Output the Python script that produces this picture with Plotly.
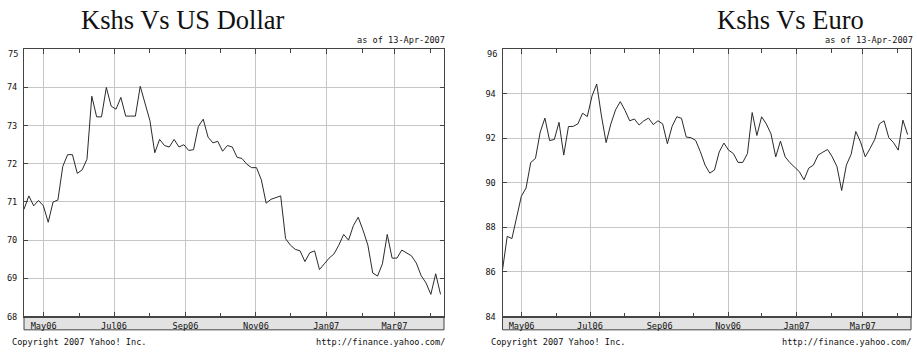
import plotly.graph_objects as go
import pandas as pd

W, H = 917, 358

# ---------------- data ----------------
start_date = "2006-04-14"
last_date = "2007-04-10"
axis_end = "2007-04-13"

usd_values = [70.81, 71.16, 70.90, 71.04, 70.90, 70.47, 71.00, 71.05, 71.93, 72.24,
              72.24, 71.75, 71.84, 72.12, 73.77, 73.23, 73.23, 74.00, 73.51, 73.43,
              73.74, 73.25, 73.25, 73.25, 74.03, 73.60, 73.13, 72.29, 72.64, 72.48,
              72.44, 72.64, 72.44, 72.50, 72.35, 72.37, 72.98, 73.17, 72.70, 72.55,
              72.59, 72.33, 72.48, 72.44, 72.17, 72.14, 71.99, 71.90, 71.90, 71.58,
              70.97, 71.07, 71.11, 71.16, 70.04, 69.87, 69.76, 69.72, 69.44, 69.67,
              69.72, 69.23, 69.38, 69.53, 69.64, 69.87, 70.15, 70.00, 70.38, 70.60,
              70.26, 69.87, 69.14, 69.06, 69.38, 70.15, 69.53, 69.53, 69.74, 69.66,
              69.59, 69.40, 69.07, 68.88, 68.58, 69.12, 68.58]

eur_values = [86.09, 87.60, 87.50, 88.50, 89.40, 89.77, 90.92, 91.10, 92.28, 92.91,
              91.90, 91.95, 92.72, 91.25, 92.53, 92.54, 92.65, 93.13, 92.98, 93.90,
              94.44, 93.01, 91.81, 92.65, 93.28, 93.65, 93.26, 92.79, 92.87, 92.60,
              92.79, 92.91, 92.62, 92.79, 92.65, 91.76, 92.54, 92.97, 92.90, 92.06,
              92.03, 91.91, 91.40, 90.80, 90.44, 90.58, 91.39, 91.79, 91.47, 91.32,
              90.92, 90.92, 91.32, 93.16, 92.13, 92.97, 92.65, 92.20, 91.17, 91.88,
              91.17, 90.91, 90.73, 90.51, 90.14, 90.66, 90.80, 91.25, 91.38, 91.50,
              91.17, 90.73, 89.66, 90.80, 91.28, 92.31, 91.84, 91.17, 91.54, 91.94,
              92.65, 92.79, 92.03, 91.81, 91.47, 92.82, 92.17]

dates = pd.date_range(start_date, last_date, periods=len(usd_values))

month_ticks = ["2006-05-01", "2006-07-01", "2006-09-01", "2006-11-01", "2007-01-01", "2007-03-01"]
month_labels = ["May06", "Jul06", "Sep06", "Nov06", "Jan07", "Mar07"]

usd_yticks = [68, 69, 70, 71, 72, 73, 74, 75]
eur_yticks = [84, 86, 88, 90, 92, 94, 96]

titles = ["Kshs Vs US Dollar", "Kshs Vs Euro"]
asof_text = "as of 13-Apr-2007"
copyright_text = "Copyright 2007 Yahoo! Inc."
url_text = "http://finance.yahoo.com/"

# ---------------- layout geometry (pixels) ----------------
PLOT_TOP, PLOT_BOT = 50, 321
BAND_BOT = 334.5
panels = [
    dict(x0=24, x1=444, title_x=183, asof_x=447, copy_x=10, url_x=447),
    dict(x0=502.5, x1=911, title_x=790, asof_x=915, copy_x=489, url_x=913),
]

def px(x):
    return x / W

def py(y):
    return 1 - y / H

MONO = "DejaVu Sans Mono"
SERIF = "Liberation Serif"
FS = 8.6
LINE_C = "#444444"
GRID_C = "#c6c6c6"

fig = go.Figure()

series = [(usd_values, usd_yticks), (eur_values, eur_yticks)]
shapes = []
annotations = []

for i, ((vals, yt), p) in enumerate(zip(series, panels)):
    xa = "x" if i == 0 else "x2"
    ya = "y" if i == 0 else "y2"
    fig.add_trace(go.Scatter(x=dates, y=vals, mode="lines", xaxis=xa, yaxis=ya,
                             line=dict(color="#2a2a2a", width=1), showlegend=False,
                             hoverinfo="skip"))
    xkey = "xaxis" if i == 0 else "xaxis2"
    ykey = "yaxis" if i == 0 else "yaxis2"
    fig.layout[xkey] = dict(
        domain=[px(p["x0"]), px(p["x1"])], anchor=ya, type="date",
        range=[start_date, axis_end],
        tickmode="array", tickvals=month_ticks, ticktext=month_labels,
        showgrid=True, gridcolor=GRID_C, gridwidth=1.4,
        showline=True, linecolor=LINE_C, linewidth=1, mirror="allticks",
        ticks="inside", ticklen=5, tickcolor=LINE_C,
        minor=dict(dtick="M1", tick0="2006-05-01", ticks="inside", ticklen=4,
                   tickcolor=LINE_C, showgrid=False),
        tickfont=dict(family=MONO, size=FS, color="#111"),
        ticklabelstandoff=1, zeroline=False, fixedrange=True,
    )
    fig.layout[ykey] = dict(
        domain=[py(PLOT_BOT), py(PLOT_TOP)], anchor=xa,
        range=[yt[0], yt[-1]],
        tickmode="array", tickvals=yt[:-1], ticktext=[str(v) for v in yt[:-1]],
        showgrid=True, gridcolor=GRID_C, gridwidth=1.4,
        showline=True, linecolor=LINE_C, linewidth=1, mirror="allticks",
        ticks="inside", ticklen=4, tickcolor=LINE_C,
        tickfont=dict(family=MONO, size=FS, color="#111"),
        ticklabelstandoff=4, zeroline=False, fixedrange=True,
    )
    # grey band under the axis holding month labels
    shapes.append(dict(type="rect", xref="paper", yref="paper",
                       x0=px(p["x0"]), x1=px(p["x1"]), y0=py(BAND_BOT), y1=py(PLOT_BOT),
                       fillcolor="#e2e2e2", line=dict(color=LINE_C, width=1), layer="below"))
    # top y label (clamped inside like the original)
    annotations.append(dict(text=str(yt[-1]), xref="paper", yref=ya, x=px(p["x0"]), y=yt[-1],
                            xanchor="right", yanchor="top", xshift=-4, yshift=2, showarrow=False,
                            font=dict(family=MONO, size=FS, color="#111")))
    annotations.append(dict(text=titles[i], xref="paper", yref="paper", x=px(p["title_x"]), y=py(20),
                            xanchor="center", yanchor="middle", showarrow=False,
                            font=dict(family=SERIF, size=26.5, color="#111")))
    annotations.append(dict(text=asof_text, xref="paper", yref="paper", x=px(p["asof_x"]), y=py(41),
                            xanchor="right", yanchor="middle", showarrow=False,
                            font=dict(family=MONO, size=FS, color="#111")))
    annotations.append(dict(text=copyright_text, xref="paper", yref="paper", x=px(p["copy_x"]), y=py(347),
                            xanchor="left", yanchor="middle", showarrow=False,
                            font=dict(family=MONO, size=FS, color="#111")))
    annotations.append(dict(text=url_text, xref="paper", yref="paper", x=px(p["url_x"]), y=py(347),
                            xanchor="right", yanchor="middle", showarrow=False,
                            font=dict(family=MONO, size=FS, color="#111")))

fig.update_layout(
    width=W, height=H, margin=dict(l=0, r=0, t=0, b=0),
    paper_bgcolor="white", plot_bgcolor="white",
    shapes=shapes, annotations=annotations, showlegend=False,
)

fig.write_html("out.html", config={"displayModeBar": False})

# remove the browser's default page margin so the figure sits at (0, 0)
with open("out.html", "r", encoding="utf-8") as f:
    html = f.read()
html = html.replace("<head>", "<head><style>html,body{margin:0;padding:0;overflow:hidden;}</style>", 1)
with open("out.html", "w", encoding="utf-8") as f:
    f.write(html)
